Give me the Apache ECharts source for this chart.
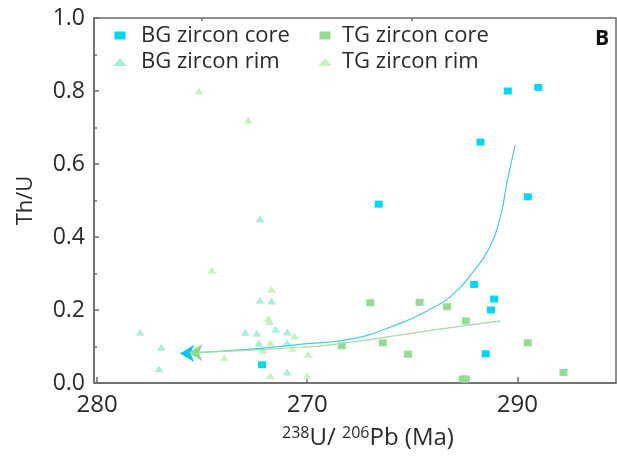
<!DOCTYPE html>
<html>
<head>
<meta charset="utf-8">
<script src="https://cdn.jsdelivr.net/npm/echarts@6/dist/echarts.min.js"></script>
<style>
  html, body { margin: 0; padding: 0; background: #fff; }
  #chart { width: 617px; height: 463px; }
</style>
</head>
<body>
<div id="chart"></div>
<script>
// values: [x (axis scale), Th/U]
var bgCore = [[289.1, 0.80], [292.0, 0.81], [286.5, 0.66], [276.8, 0.49], [291.0, 0.51],
  [285.9, 0.27], [287.8, 0.23], [287.5, 0.20], [287.0, 0.08], [265.7, 0.05]];
var bgRim = [[265.5, 0.45], [265.5, 0.227], [266.6, 0.225], [254.1, 0.139], [256.1, 0.098],
  [255.9, 0.039], [264.1, 0.139], [265.2, 0.136], [267.0, 0.147], [268.1, 0.14],
  [265.4, 0.109], [268.1, 0.11], [268.1, 0.03]];
var tgCore = [[276.0, 0.22], [280.7, 0.221], [283.3, 0.209], [285.1, 0.17], [291.0, 0.11],
  [273.3, 0.102], [277.2, 0.11], [279.6, 0.079], [284.8, 0.011], [285.1, 0.011], [294.4, 0.029]];
var tgRim = [[259.7, 0.80], [264.4, 0.72], [260.9, 0.309], [266.6, 0.257], [266.3, 0.177],
  [266.4, 0.168], [268.8, 0.129], [266.5, 0.11], [265.8, 0.09], [268.6, 0.095],
  [262.1, 0.069], [270.1, 0.079], [266.5, 0.02], [270.0, 0.02]];
// model curves
var bgCurve = [[257.9, 0.081], [264.6, 0.093], [269.3, 0.106], [274.1, 0.120], [278.9, 0.164],
  [281.7, 0.202], [283.6, 0.236], [285.7, 0.301], [287.4, 0.373], [288.4, 0.456],
  [289.0, 0.547], [289.8, 0.652]];
var tgCurve = [[258.7, 0.083], [264.6, 0.090], [269.3, 0.098], [271.2, 0.101], [275.7, 0.118],
  [282.0, 0.145], [288.4, 0.170]];
var xMajor = [250, 270, 290];
var xMinor = [260, 280];
var xTickText = { 250: '280', 270: '270', 290: '290' };

var font = 'Open Sans';
var txt = '#2a2a2a';
var axisColor = '#6b6b6b';
var sq = 'path://M0,0h11v8h-11z';
var tri = 'path://M7,0L14,8H0Z';

var chart = echarts.init(document.getElementById('chart'));

function withArrow(pts, color) {
  return pts.map(function (p, i) {
    if (i === 0) {
      return { value: p, symbol: 'arrow', symbolSize: [13, 14], symbolRotate: 90, itemStyle: { color: color } };
    }
    return { value: p, symbol: 'none' };
  });
}

function legendOne(name, icon, left, top, w) {
  return {
    data: [{ name: name, icon: icon }],
    left: left, top: top, padding: 0,
    itemWidth: w, itemHeight: 8,
    textStyle: { fontFamily: font, fontSize: 22, color: txt }
  };
}

var option = {
  animation: false,
  grid: { left: 94, right: 1, top: 18, bottom: 80, show: true, borderColor: axisColor, borderWidth: 1.5 },
  title: { text: 'B', right: 8, top: 29, padding: 0,
    textStyle: { fontFamily: font, fontSize: 21, fontWeight: 'bold', color: '#111' } },
  legend: [
    legendOne('BG zircon core', sq, 114.5, 24.5, 32),
    legendOne('BG zircon rim', tri, 113, 51, 32),
    legendOne('TG zircon core', sq, 319.5, 24.5, 24),
    legendOne('TG zircon rim', tri, 318, 51, 24)
  ],
  xAxis: [{
    type: 'value', min: 249.7, max: 299.4,
    splitLine: { show: false },
    axisLine: { lineStyle: { color: axisColor, width: 1.5 } },
    axisTick: { inside: true, length: 6, customValues: xMajor, lineStyle: { color: axisColor, width: 1.5 } },
    axisLabel: { customValues: xMajor, margin: 10, fontFamily: font, fontSize: 24, color: txt,
      formatter: function (v) { return xTickText[v] || ''; } },
    name: '{sup|238}{n|U/ }{sup|206}{n|Pb (Ma)}',
    nameLocation: 'middle', nameGap: 42,
    nameTextStyle: {
      padding: [0, 0, 0, 26],
      rich: {
        n: { fontFamily: font, fontSize: 24, color: txt, lineHeight: 26 },
        sup: { fontFamily: font, fontSize: 16, color: txt, lineHeight: 13, verticalAlign: 'top' }
      }
    }
  }, {
    type: 'value', min: 249.7, max: 299.4,
    splitLine: { show: false },
    axisLine: { show: false },
    axisTick: { inside: true, length: 3, customValues: xMinor, lineStyle: { color: axisColor, width: 1.5 } },
    axisLabel: { show: false }
  }],
  yAxis: {
    type: 'value', min: 0, max: 1, interval: 0.2,
    splitLine: { show: false },
    axisLine: { show: true, lineStyle: { color: axisColor, width: 1.5 } },
    axisTick: { inside: true, length: 5, lineStyle: { color: axisColor, width: 1.5 } },
    minorTick: { show: true, splitNumber: 2, length: 3, lineStyle: { color: axisColor, width: 1.5 } },
    axisLabel: { margin: 9, fontFamily: font, fontSize: 23, color: txt,
      formatter: function (v) { return v.toFixed(1); } },
    name: 'Th/U', nameLocation: 'middle', nameGap: 57,
    nameTextStyle: { fontFamily: font, fontSize: 22, color: txt }
  },
  series: [
    { name: 'TG zircon rim', type: 'scatter', data: tgRim, symbol: 'triangle', symbolSize: [9, 7],
      itemStyle: { color: '#c6f2c0', opacity: 1 } },
    { name: 'BG zircon rim', type: 'scatter', data: bgRim, symbol: 'triangle', symbolSize: [9, 7],
      itemStyle: { color: '#a6f0da', opacity: 1 } },
    { name: 'TG zircon core', type: 'scatter', data: tgCore, symbol: 'rect', symbolSize: [8, 7],
      itemStyle: { color: '#93dc93', opacity: 1 } },
    { name: 'BG zircon core', type: 'scatter', data: bgCore, symbol: 'rect', symbolSize: [8, 7],
      itemStyle: { color: '#00d8f4', opacity: 1 } },
    { name: 'BG curve', type: 'line', data: withArrow(bgCurve, '#00c8f0'), smooth: true, symbol: 'none',
      showSymbol: true, lineStyle: { color: '#40cfdf', width: 1.2 }, itemStyle: { color: '#40cfdf' } },
    { name: 'TG curve', type: 'line', data: withArrow(tgCurve, '#8ed88e'), smooth: true, symbol: 'none',
      showSymbol: true, lineStyle: { color: '#a6dca6', width: 1.2 }, itemStyle: { color: '#a6dca6' } }
  ]
};

option && chart.setOption(option);
window.addEventListener('resize', function () {
  chart.resize();
});
</script>
</body>
</html>
